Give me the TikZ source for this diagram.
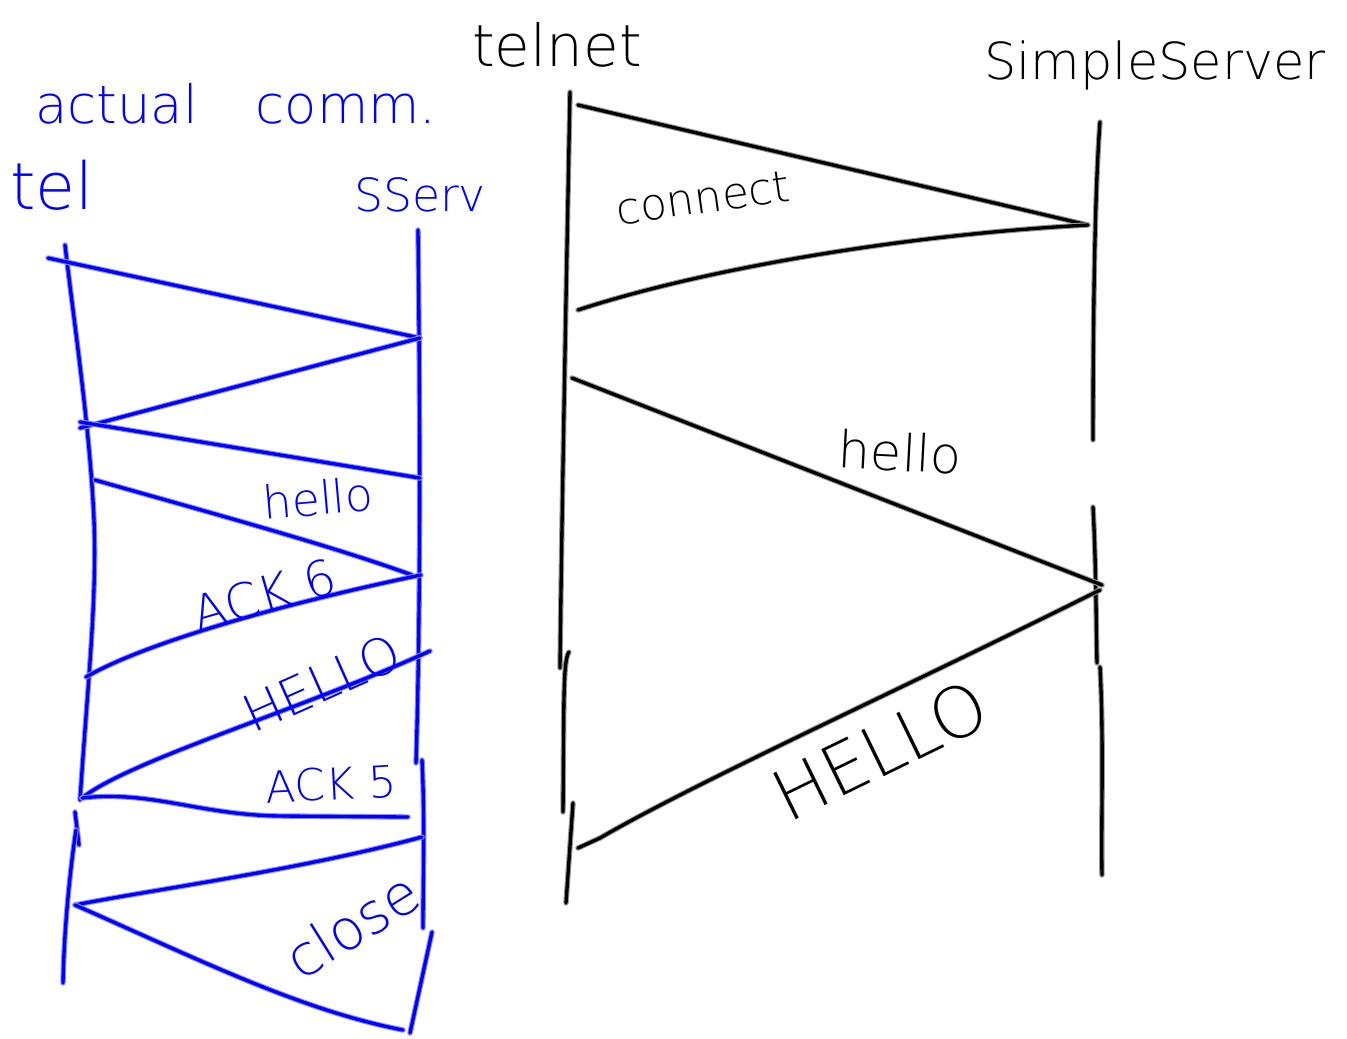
\documentclass[tikz,border=0pt]{standalone}
\usepackage{fontspec}
\newfontfamily\hand{DejaVu Sans ExtraLight}
\newcommand\fsz[1]{\fontsize{#1}{#1}\selectfont}
\begin{document}
\begin{tikzpicture}[x=0.02cm,y=-0.02cm,
  bpen/.style={draw=black, line width=1.9pt, line cap=round, line join=round,
    preaction={draw=black!40, line width=3.1pt, line cap=round, line join=round}},
  upen/.style={draw=blue, line width=1.9pt, line cap=round, line join=round,
    preaction={draw=blue!45, line width=3.1pt, line cap=round, line join=round}},
  btxt/.style={text=black, font=\hand, inner sep=0pt},
  utxt/.style={text=blue, font=\hand, inner sep=0pt}]
\useasboundingbox (0,0) rectangle (1347,1039);
\fill[white] (0,0) rectangle (1347,1039);

% ---------- black diagram ----------
\node[btxt, font=\hand\fsz{33}] (telnet) at (557,45) {telnet};
\node[btxt, font=\hand\fsz{29}] (simple) at (1155,65) {SimpleServer};

\coordinate (tl1a) at (570,92);   \coordinate (tl1b) at (560,668);
\coordinate (tl2a) at (569,652);  \coordinate (tl2b) at (563,812);
\coordinate (tl3a) at (573,803);  \coordinate (tl3b) at (566,903);
\coordinate (sr1a) at (1100,122); \coordinate (sr1b) at (1093,440);
\coordinate (sr2a) at (1093,507); \coordinate (sr2b) at (1097,663);
\coordinate (sr3a) at (1100,667); \coordinate (sr3b) at (1102,875);

\draw[bpen] (tl1a) .. controls (566,300) and (562,500) .. (tl1b);
\draw[bpen] (tl2a) .. controls (563,660) and (564,700) .. (tl2b);
\draw[bpen] (tl3a) -- (tl3b);
\draw[bpen] (sr1a) .. controls (1094,200) and (1093,350) .. (sr1b);
\draw[bpen] (sr2a) .. controls (1096,560) and (1096,620) .. (sr2b);
\draw[bpen] (sr3a) .. controls (1104,740) and (1101,820) .. (sr3b);

\coordinate (c1) at (578,105); \coordinate (c2) at (1088,225); \coordinate (c3) at (578,310);
\coordinate (h1) at (572,378); \coordinate (h2) at (1102,585);
\coordinate (H1) at (1100,590); \coordinate (H2) at (578,848);
\draw[bpen] (c1) -- (c2);
\draw[bpen] (c2) .. controls (900,235) and (700,270) .. (c3);
\draw[bpen] (h1) -- (h2);
\draw[bpen] (H1) .. controls (900,690) and (700,780) .. (600,838) -- (H2);

\node[btxt, font=\hand\fsz{25}, rotate=8] (lconn) at (703,198) {connect};
\node[btxt, font=\hand\fsz{29}, rotate=-3] (lhello) at (900,452) {hello};
\node[btxt, font=\hand\fsz{40}, rotate=26] (lHELLO) at (880,750) {HELLO};

% ---------- blue diagram ----------
\node[utxt, font=\hand\fsz{30}] (actual) at (236,104) {actual\hspace{1.1em}comm.};
\node[utxt, font=\hand\fsz{37}] (tel) at (52,185) {tel};
\node[utxt, font=\hand\fsz{26}] (sserv) at (420,195) {SServ};

\coordinate (u1) at (65,245); \coordinate (u2) at (80,800);
\coordinate (ud1) at (75,812); \coordinate (ud2) at (79,845);
\coordinate (u3) at (76,830); \coordinate (u4) at (63,983);
\coordinate (v1) at (418,230); \coordinate (v2) at (416,763);
\coordinate (v3) at (422,760); \coordinate (v4) at (423,928);
\coordinate (v5) at (432,932); \coordinate (v6) at (410,1033);

\draw[upen] (u1) .. controls (75,330) and (90,430) .. (94,520) .. controls (97,600) and (88,680) .. (u2);
\draw[upen] (ud1) -- (ud2);
\draw[upen] (u3) .. controls (70,870) and (64,930) .. (u4);
\draw[upen] (v1) .. controls (420,400) and (421,600) .. (v2);
\draw[upen] (v3) .. controls (425,820) and (423,880) .. (v4);
\draw[upen] (v5) -- (v6);

\coordinate (m1a) at (48,258);  \coordinate (m1b) at (420,338);
\coordinate (m2b) at (80,428);
\coordinate (m3a) at (80,422);  \coordinate (m3b) at (420,478);
\coordinate (m4a) at (95,480);  \coordinate (m4b) at (412,575);
\coordinate (m5a) at (421,575); \coordinate (m5b) at (86,677);
\coordinate (m6a) at (430,651); \coordinate (m6b) at (82,798);
\coordinate (m7b) at (408,817);
\coordinate (m8a) at (422,837); \coordinate (m8b) at (75,905);
\coordinate (m9b) at (403,1030);

\draw[upen] (m1a) -- (m1b);
\draw[upen] (m1b) -- (m2b);
\draw[upen] (m3a) -- (m3b);
\draw[upen] (m4a) .. controls (200,510) and (330,545) .. (m4b);
\draw[upen] (m5a) .. controls (300,600) and (150,640) .. (m5b);
\draw[upen] (m6a) .. controls (300,710) and (130,760) .. (m6b);
\draw[upen] (m6b) .. controls (150,790) and (200,815) .. (280,816) -- (m7b);
\draw[upen] (m8a) .. controls (300,870) and (150,890) .. (m8b);
\draw[upen] (m8b) .. controls (200,960) and (300,1010) .. (m9b);

\node[utxt, font=\hand\fsz{26}, rotate=5] (uhello) at (318,498) {hello};
\node[utxt, font=\hand\fsz{28}, rotate=16] (uack6) at (264,595) {ACK 6};
\node[utxt, font=\hand\fsz{29}, rotate=24] (uHELLO) at (322,683) {HELLO};
\node[utxt, font=\hand\fsz{25}, rotate=3] (uack5) at (331,784) {ACK 5};
\node[utxt, font=\hand\fsz{32}, rotate=32] (uclose) at (352,925) {close};
\end{tikzpicture}
\end{document}
